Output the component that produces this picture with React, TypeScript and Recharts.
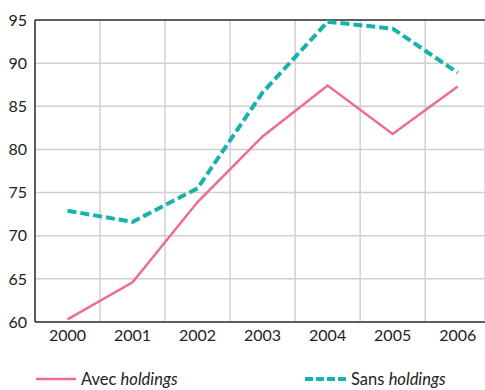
import { LineChart, Line, XAxis, YAxis, CartesianGrid, ReferenceLine } from "recharts";

const years = [2000, 2001, 2002, 2003, 2004, 2005, 2006];
const avecHoldings = [60.3, 64.6, 73.9, 81.5, 87.4, 81.8, 87.3];
const sansHoldings = [72.9, 71.6, 75.5, 86.6, 94.8, 94.0, 88.9];
const yTicks = [60, 65, 70, 75, 80, 85, 90, 95];
// vertical grid sits between the years
const gridYears = [2000.5, 2001.5, 2002.5, 2003.5, 2004.5, 2005.5];

const data = years.map((year, i) => ({
  year,
  avec: avecHoldings[i],
  sans: sansHoldings[i],
}));

const PINK = "#ee6d8d";
const TEAL = "#16b3ad";
const AXIS = "#333";
const FONT = "Lato, 'Open Sans', sans-serif";

const tickStyle = { fill: "#222", fontSize: 16, fontFamily: FONT };

export default function App() {
  return (
    <div style={{ position: "absolute", left: 0, top: 0, width: 485, height: 390, background: "#fff", fontFamily: FONT }}>
      <LineChart width={485} height={352} data={data} margin={{ top: 20, right: 0, bottom: 0, left: 0 }}>
        <CartesianGrid xAxisId="grid" stroke="#d0d0d0" strokeWidth={1.5} horizontal vertical />
        <XAxis
          xAxisId="grid"
          type="number"
          dataKey="year"
          domain={[1999.5, 2006.42]}
          ticks={gridYears}
          hide
        />
        <XAxis
          type="number"
          dataKey="year"
          domain={[1999.5, 2006.42]}
          ticks={years}
          allowDataOverflow
          tickLine={false}
          axisLine={{ stroke: AXIS, strokeWidth: 1.5 }}
          tick={tickStyle}
          height={30}
          interval={0}
        />
        <YAxis
          domain={[60, 95]}
          ticks={yTicks}
          width={35}
          tickLine={false}
          axisLine={{ stroke: AXIS, strokeWidth: 1.5 }}
          tick={tickStyle}
          interval={0}
        />
        <ReferenceLine y={95} stroke={AXIS} strokeWidth={1.5} />
        <Line
          dataKey="avec"
          stroke={PINK}
          strokeWidth={2.5}
          dot={false}
          isAnimationActive={false}
        />
        <Line
          dataKey="sans"
          stroke={TEAL}
          strokeWidth={4}
          strokeDasharray="9 4"
          dot={false}
          isAnimationActive={false}
        />
      </LineChart>

      {/* Legend */}
      <div style={{ position: "absolute", top: 369, left: 36, display: "flex", alignItems: "center", fontSize: 16.5, color: "#222" }}>
        <svg width={40} height={6}>
          <line x1={0} y1={3} x2={40} y2={3} stroke={PINK} strokeWidth={2.5} />
        </svg>
        <span style={{ marginLeft: 5 }}>
          Avec <i>holdings</i>
        </span>
      </div>
      <div style={{ position: "absolute", top: 369, left: 305, display: "flex", alignItems: "center", fontSize: 16.5, color: "#222" }}>
        <svg width={41} height={6}>
          <line x1={0} y1={3} x2={41} y2={3} stroke={TEAL} strokeWidth={4} strokeDasharray="8 3" />
        </svg>
        <span style={{ marginLeft: 5 }}>
          Sans <i>holdings</i>
        </span>
      </div>
    </div>
  );
}
